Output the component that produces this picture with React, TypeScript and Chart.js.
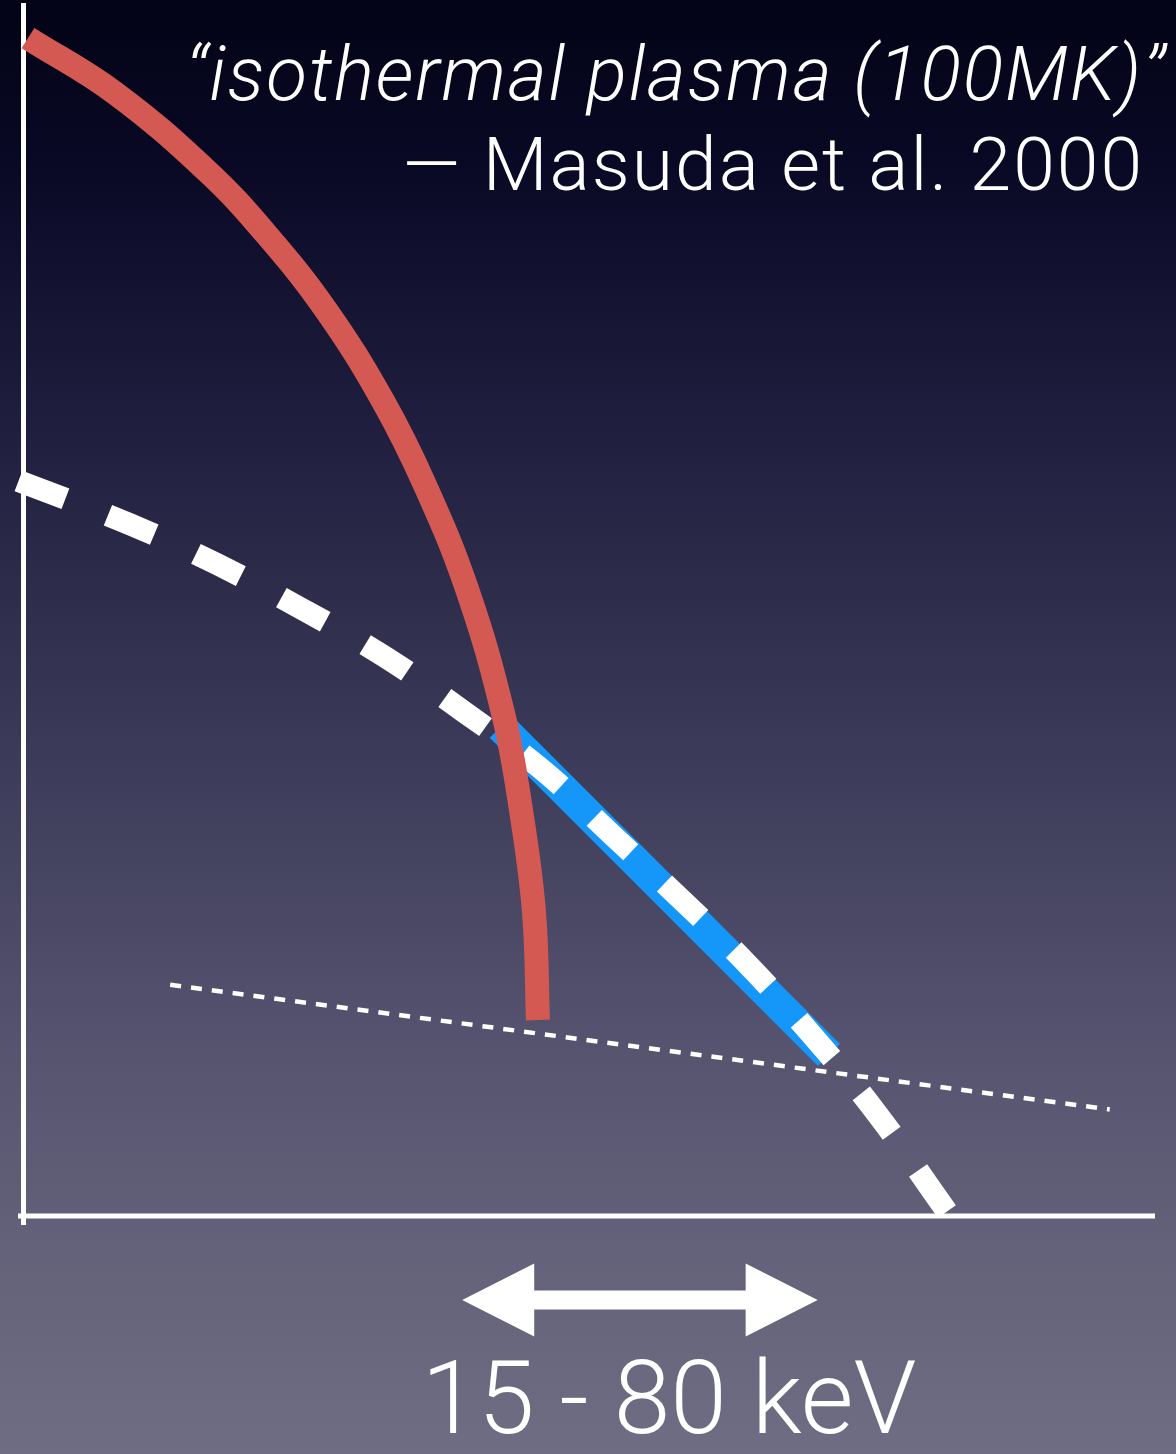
import React, { useEffect, useRef } from "react";
import { Chart, registerables } from "chart.js";

Chart.register(...registerables);

// Schematic spectrum (arbitrary units: x = log energy, y = log flux, 0..100)
const thermalX = [0.44, 8.13, 16.34, 21.47, 26.77, 31.8, 35.51, 39.22, 42.4, 43.99, 45.14, 45.49];
const thermalY = [97.27, 92.73, 86.21, 81.09, 74.81, 67.3, 60.36, 51.78, 41.54, 33.53, 25.1, 16.18];
const powerLawX = [-0.4, 9.5, 17.2, 24.7, 32.1, 39.0, 45.8, 52.0, 58.2, 64.2, 70.1, 75.4, 81.7];
const powerLawY = [60.7, 57.1, 53.8, 50.1, 46.1, 41.6, 36.9, 31.5, 26.1, 20.6, 14.5, 8.5, 0.25];
const observedX = [42.2, 71.2];
const observedY = [40.4, 13.3];
const backgroundX = [13.0, 96.0];
const backgroundY = [19.1, 8.8];
const bandEdges = [38.8, 70.2];
const bandLabel = "15 - 80 keV";
const quoteLine = "\u201Cisothermal plasma (100MK)\u201D";
const sourceLine = "\u2014 Masuda et al. 2000";

const pts = (xs: number[], ys: number[]) => xs.map((x, i) => ({ x, y: ys[i] }));

const FONT = "Roboto, 'Liberation Sans', sans-serif";

const backgroundPlugin = {
  id: "bg",
  beforeDraw(chart: any) {
    const { ctx, width, height } = chart;
    const g = ctx.createLinearGradient(0, 0, 0, height);
    g.addColorStop(0, "#030316");
    g.addColorStop(0.12, "#0a0926");
    g.addColorStop(0.3, "#201f3f");
    g.addColorStop(0.5, "#393856");
    g.addColorStop(0.7, "#53516d");
    g.addColorStop(0.85, "#636179");
    g.addColorStop(1, "#6f6d83");
    ctx.save();
    ctx.fillStyle = g;
    ctx.fillRect(0, 0, width, height);
    ctx.restore();
  },
};

const axesPlugin = {
  id: "axesLines",
  beforeDatasetsDraw(chart: any) {
    const { ctx, chartArea } = chart;
    const { left, right, top, bottom } = chartArea;
    ctx.save();
    ctx.strokeStyle = "#ffffff";
    ctx.lineWidth = 5;
    ctx.lineCap = "butt";
    ctx.setLineDash([]);
    ctx.beginPath();
    ctx.moveTo(left + 0.5, top - 2);
    ctx.lineTo(left + 0.5, bottom + 9);
    ctx.moveTo(left - 5, bottom);
    ctx.lineTo(right, bottom);
    ctx.stroke();
    ctx.restore();
  },
};

const annotationPlugin = {
  id: "annot",
  afterDraw(chart: any) {
    const { ctx, chartArea, scales } = chart;
    const xs = scales.x;
    ctx.save();
    ctx.fillStyle = "#ffffff";
    // double-headed arrow for the energy band
    const x0 = xs.getPixelForValue(bandEdges[0]);
    const x1 = xs.getPixelForValue(bandEdges[1]);
    const yA = chartArea.bottom + 84;
    const head = 72;
    const hh = 36.5;
    const sh = 9.5;
    ctx.beginPath();
    ctx.moveTo(x0, yA);
    ctx.lineTo(x0 + head, yA - hh);
    ctx.lineTo(x0 + head, yA - sh);
    ctx.lineTo(x1 - head, yA - sh);
    ctx.lineTo(x1 - head, yA - hh);
    ctx.lineTo(x1, yA);
    ctx.lineTo(x1 - head, yA + hh);
    ctx.lineTo(x1 - head, yA + sh);
    ctx.lineTo(x0 + head, yA + sh);
    ctx.lineTo(x0 + head, yA + hh);
    ctx.closePath();
    ctx.fill();

    ctx.textBaseline = "alphabetic";
    ctx.textAlign = "center";
    ctx.font = `300 102px ${FONT}`;
    ctx.fillText(bandLabel, (x0 + x1) / 2 + 29, chartArea.bottom + 217);

    ctx.textAlign = "right";
    ctx.font = `italic 300 75px ${FONT}`;
    (ctx as any).letterSpacing = "1.8px";
    ctx.fillText(quoteLine, chartArea.right + 12, chartArea.top + 95);
    ctx.font = `300 75px ${FONT}`;
    (ctx as any).letterSpacing = "2px";
    ctx.fillText(sourceLine, chartArea.right - 11, chartArea.top + 185);
    (ctx as any).letterSpacing = "0px";
    ctx.restore();
  },
};

export default function App() {
  const ref = useRef<HTMLCanvasElement | null>(null);

  useEffect(() => {
    document.body.style.margin = "0";
    const canvas = ref.current;
    if (!canvas) return;
    const chart = new Chart(canvas, {
      type: "line",
      data: {
        datasets: [
          {
            label: "thermal",
            data: pts(thermalX, thermalY),
            borderColor: "#d45953",
            borderWidth: 24,
            borderCapStyle: "butt",
            borderJoinStyle: "round",
            tension: 0.4,
            pointRadius: 0,
            fill: false,
            clip: false,
            order: 1,
          } as any,
          {
            label: "power law",
            data: pts(powerLawX, powerLawY),
            borderColor: "#ffffff",
            borderWidth: 22,
            borderDash: [50, 46],
            borderCapStyle: "butt",
            tension: 0.4,
            pointRadius: 0,
            fill: false,
            clip: false,
            order: 2,
          } as any,
          {
            label: "observed",
            data: pts(observedX, observedY),
            borderColor: "#1597fa",
            borderWidth: 31,
            borderCapStyle: "butt",
            borderDash: [],
            pointRadius: 0,
            pointBorderWidth: 0,
            fill: false,
            clip: false,
            order: 3,
          } as any,
          {
            label: "background",
            data: pts(backgroundX, backgroundY),
            borderColor: "#ffffff",
            borderWidth: 4.5,
            borderDash: [11, 10],
            borderCapStyle: "butt",
            pointRadius: 0,
            fill: false,
            clip: false,
            order: 4,
          } as any,
        ],
      },
      options: {
        responsive: false,
        animation: false,
        events: [],
        layout: { padding: { left: 23, right: 21, top: 5, bottom: 238 } },
        plugins: {
          legend: { display: false },
          tooltip: { enabled: false },
          title: { display: false },
        },
        scales: {
          x: { type: "linear", min: 0, max: 100, display: false },
          y: { type: "linear", min: 0, max: 100, display: false },
        },
      },
      plugins: [backgroundPlugin, axesPlugin, annotationPlugin],
    });
    return () => chart.destroy();
  }, []);

  return (
    <canvas
      ref={ref}
      width={1176}
      height={1454}
      style={{ display: "block", width: 1176, height: 1454 }}
    />
  );
}
